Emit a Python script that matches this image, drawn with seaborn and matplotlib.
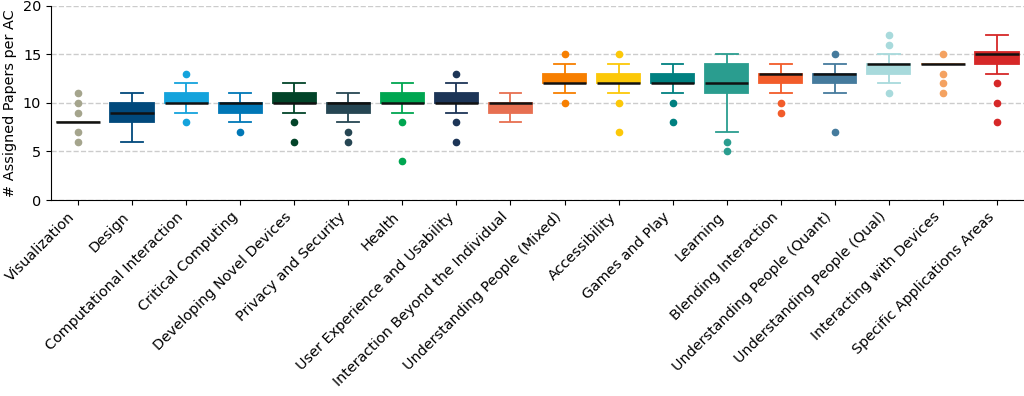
import matplotlib
matplotlib.use("Agg")
import matplotlib.pyplot as plt
import seaborn as sns
import pandas as pd

categories = [
    "Visualization", "Design", "Computational Interaction", "Critical Computing",
    "Developing Novel Devices", "Privacy and Security", "Health",
    "User Experience and Usability", "Interaction Beyond the Individual",
    "Understanding People (Mixed)", "Accessibility", "Games and Play", "Learning",
    "Blending Interaction", "Understanding People (Quant)",
    "Understanding People (Qual)", "Interacting with Devices",
    "Specific Applications Areas",
]

colors = [
    "#a5a58d", "#01497c", "#14a3dc", "#0077b6", "#024429", "#264653", "#00a651",
    "#1d3557", "#e76f51", "#f77f00", "#fcc808", "#008080", "#2a9d8f", "#f25c2a",
    "#457b9d", "#a8dadc", "#f4a261", "#d62828",
]

# papers assigned per AC, per subcommittee
visualization = [6, 7, 8, 8, 8, 8, 8, 8, 8, 8, 9, 10, 11]
design = [6, 7, 8, 8, 8, 9, 9, 9, 9, 10, 10, 10, 11]
computational_interaction = [8, 9, 10, 10, 10, 10, 10, 11, 11, 11, 11, 12, 13]
critical_computing = [7, 8, 9, 9, 9, 9, 10, 10, 10, 10, 10, 10, 11]
developing_novel_devices = [6, 8, 9, 10, 10, 10, 10, 10, 11, 11, 11, 11, 12]
privacy_security = [6, 7, 8, 9, 9, 9, 10, 10, 10, 10, 10, 10, 11]
health = [4, 8, 9, 10, 10, 10, 10, 10, 11, 11, 11, 11, 12]
ux_usability = [6, 8, 9, 10, 10, 10, 10, 11, 11, 11, 11, 12, 13]
beyond_individual = [8, 9, 9, 9, 9, 10, 10, 10, 10, 10, 10, 10, 11]
people_mixed = [10, 11, 12, 12, 12, 12, 12, 13, 13, 13, 13, 14, 15]
accessibility = [7, 10, 11, 12, 12, 12, 12, 13, 13, 13, 13, 14, 15]
games_play = [8, 10, 11, 12, 12, 12, 12, 13, 13, 13, 13, 13, 14]
learning = [5, 6, 7, 11, 11, 12, 12, 13, 14, 14, 14, 15, 15]
blending_interaction = [9, 10, 11, 12, 12, 12, 13, 13, 13, 13, 13, 14, 14]
people_quant = [7, 11, 12, 12, 12, 13, 13, 13, 13, 13, 14, 14, 15]
people_qual = [11, 12, 13, 13, 13, 14, 14, 14, 14, 14, 15, 16, 17]
interacting_devices = [11, 12, 13, 14, 14, 14, 14, 14, 14, 14, 14, 14, 15]
specific_applications = [8, 10, 12, 13, 14, 14, 14, 14, 15, 15, 15, 15, 15, 15,
                         15, 16, 16, 16, 17, 17]

values = [
    visualization, design, computational_interaction, critical_computing,
    developing_novel_devices, privacy_security, health, ux_usability,
    beyond_individual, people_mixed, accessibility, games_play, learning,
    blending_interaction, people_quant, people_qual, interacting_devices,
    specific_applications,
]

fig = plt.figure(figsize=(10.24, 3.96), dpi=100)
ax = fig.add_axes([51 / 1024, 196 / 396, 973 / 1024, 194.3 / 396])

for cat, col, vals in zip(categories, colors, values):
    df = pd.DataFrame({"Subcommittee": [cat] * len(vals), "Papers": vals})
    sns.boxplot(
        data=df, x="Subcommittee", y="Papers", order=categories, ax=ax,
        color=col, saturation=1, linecolor=col, linewidth=1.3, width=0.8,
        medianprops=dict(color="#111111", linewidth=1.8),
        flierprops=dict(marker="o", markerfacecolor=col, markeredgecolor=col,
                        markersize=4.5),
        zorder=3,
    )

ax.set_ylim(0, 20)
ax.set_yticks([0, 5, 10, 15, 20])
ax.set_xlim(-0.5, len(categories) - 0.5)
ax.yaxis.grid(True, linestyle="--", color="#cccccc", linewidth=1)
ax.set_axisbelow(True)
ax.spines["top"].set_visible(False)
ax.spines["right"].set_visible(False)
ax.set_xlabel("")
ax.set_ylabel("# Assigned Papers per AC", fontsize=10.4)
ax.tick_params(axis="both", labelsize=10.4)
plt.setp(ax.get_xticklabels(), rotation=45, ha="right", rotation_mode="default")

fig.savefig("out.png", dpi=100)
